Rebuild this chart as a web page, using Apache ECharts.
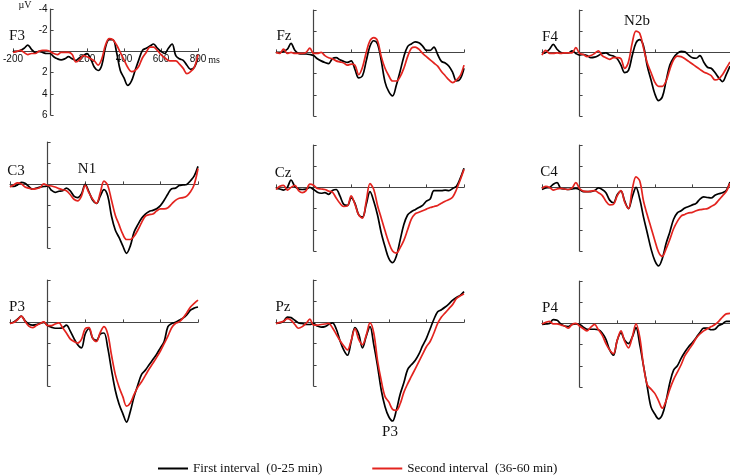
<!DOCTYPE html>
<html>
<head>
<meta charset="utf-8">
<script src="https://cdn.jsdelivr.net/npm/echarts@6/dist/echarts.min.js"></script>
<style>
  html, body { margin: 0; padding: 0; background: #fff; }
  #chart { width: 730px; height: 476px; }
</style>
</head>
<body>
<div id="chart"></div>
<script>
// time points in ms
const times = [-200, -180, -160, -140, -120, -100, -80, -60, -40, -20, 0, 20, 40, 60, 80, 100, 120, 140, 160, 180,
  200, 220, 240, 260, 280, 300, 320, 340, 360, 380, 400, 420, 440, 460, 480, 500, 520, 540, 560, 580,
  600, 620, 640, 660, 680, 700, 720, 740, 760, 780, 800]

const xTicks = [-200, 200, 400, 600, 800]
const yTicks = [-4, -2, 2, 4, 6]

// amplitudes (µV), first interval = black, second interval = red
const f3First = [0, 0, -0.1, -0.3, -0.6, -0.2, 0.1, 0, 0.1, 0.2, 0.2, 0.5, 0.7, 0.8, 0.7, 0.5, 0.7, 0.85, 0.6, 0.4,
  0.2, 0.7, 1.5, 1.8, 1.3, -0.4, -1.1, -1.1, 0.1, 1.8, 2.5, 3.2, 2.8, 1.8, 0.8, -0.1, -0.3, -0.5, -0.7, -0.3,
  0, 0.2, -0.3, -0.7, 0.4, 0.7, 0.85, 1.3, 1.7, 1.5, 0.6]
const f3Second = [0.1, 0, -0.1, 0.1, 0.3, 0.2, 0.2, 0, -0.1, -0.1, 0, 0.2, 0.3, 0.1, 0.1, 0.1, 0.3, 1.0, 0.8, 0.4,
  0.5, 0.7, 0.9, 1.3, 0.7, -0.6, -1.2, -1.1, -0.6, 0.1, 0.8, 1.5, 1.9, 1.8, 1.4, 0.6, 0.1, -0.4, -0.4, -0.1,
  0.3, 0.6, 0.85, 0.9, 0.9, 1.2, 1.6, 2.1, 1.9, 1.5, 0.3]

const fzFirst = [0, 0, -0.1, -0.3, -0.85, -0.2, 0.1, 0.15, 0.15, 0.2, 0.3, 0.6, 0.8, 0.95, 1.05, 0.6, 0.5, 0.7, 0.85, 0.95,
  0.8, 1.6, 2.4, 2.2, 0.8, -0.6, -1.1, -0.8, 0.8, 2.8, 3.7, 4.1, 3.1, 1.8, 0.4, -0.55, -0.8, -1.0, -0.9, -0.6,
  -0.2, -0.2, -0.5, 0.2, 0.85, 1.0, 1.3, 1.9, 2.7, 2.5, 1.5]
const fzSecond = [0, 0.1, -0.3, 0.1, 0, 0.1, 0.1, 0.1, 0, -0.4, 0.1, 0.1, 0, 0.3, 0.5, 0.6, 0.8, 0.9, 1.0, 1.2,
  1.1, 1.2, 2.1, 1.4, 0.0, -1.1, -1.4, -1.1, 0.4, 1.5, 2.2, 2.7, 2.7, 2.3, 1.5, 0.4, -0.4, -0.5, -0.3, 0.1,
  0.4, 0.7, 1.0, 1.3, 1.8, 2.2, 2.6, 2.85, 2.6, 2.2, 1.2]

const f4First = [0.1, 0, -0.3, -0.75, -0.3, 0, 0.05, 0.05, -0.15, 0.1, 0.25, 0.2, 0.3, 0.5, 0.45, 0.3, 0.1, 0.05, 0.25, 0.35,
  0.6, 1.2, 1.9, 1.7, 0.3, -0.9, -1.2, -0.6, 1.3, 2.6, 3.9, 4.55, 4.2, 2.7, 1.2, 0.5, 0.1, -0.1, -0.05, 0.25,
  0.5, 0.55, 0.3, 0.9, 1.4, 1.5, 1.9, 2.4, 2.75, 2.1, 1.3]
const f4Second = [0.25, -0.2, 0.1, 0.1, 0.05, 0.1, 0.05, 0.05, 0.05, -0.45, 0.1, 0.2, 0.4, 0.3, 0.1, -0.15, 0.3, 0.5, 0.65, 0.5,
  0.5, 0.6, 1.5, 0.9, -0.9, -2.0, -1.8, -0.4, 1.0, 1.9, 2.8, 3.2, 3.2, 2.7, 1.6, 0.7, 0.35, 0.4, 0.6, 0.85,
  1.1, 1.35, 1.6, 1.85, 2.0, 2.2, 2.6, 2.5, 2.1, 1.5, 0.9]

const c3First = [0.15, 0.2, 0.05, -0.2, -0.1, 0.2, 0.45, 0.35, 0.25, 0.2, 0.15, 0.55, 0.75, 0.65, 0.6, 0.35, 0.6, 1.1, 1.25, 0.9,
  0.0, 0.7, 1.5, 1.8, 1.1, 0.5, 1.1, 3.0, 4.3, 5.0, 5.8, 6.5, 5.8, 4.5, 3.8, 3.2, 2.8, 2.55, 2.45, 2.3,
  2.0, 1.5, 0.9, 0.4, 0.35, 0.1, 0.05, 0.0, -0.35, -0.8, -1.7]
const c3Second = [0.25, 0.05, -0.15, -0.05, 0.25, 0.35, 0.45, 0.4, 0.3, -0.05, 0.1, 0.15, 0.25, 0.4, 0.5, 0.6, 0.95, 1.4, 1.55, 1.1,
  0.1, 0.8, 1.4, 1.8, 0.8, -0.3, 0.1, 1.5, 2.9, 3.8, 4.7, 5.2, 5.2, 4.9, 4.3, 3.6, 3.0, 2.85, 2.8, 2.5,
  2.3, 2.3, 2.2, 1.85, 1.5, 1.3, 1.25, 1.1, 0.7, 0.0, -1.5]

const czFirst = [0.1, 0.15, 0.25, 0.0, -0.7, -0.1, 0.15, 0.2, 0.15, 0.0, 0.2, 0.45, 0.55, 0.5, 0.65, 0.3, 0.2, 0.8, 1.6, 1.7,
  1.0, 1.5, 2.6, 2.8, 1.6, 0.4, 1.3, 2.6, 4.3, 5.6, 6.7, 7.1, 6.5, 5.0, 3.5, 2.6, 2.3, 2.1, 1.9, 1.7,
  1.3, 1.1, 0.3, 0.3, 0.3, 0.25, 0.3, 0.1, -0.1, -0.85, -1.8]
const czSecond = [0.2, -0.1, -0.2, 0.25, 0.0, -0.2, 0.3, 0.5, 0.3, -0.3, -0.2, 0.1, 0.15, 0.2, 0.35, 0.45, 1.0, 1.5, 1.8, 1.75,
  0.8, 1.6, 2.6, 2.9, 1.3, -0.35, 0.2, 1.7, 2.9, 4.1, 5.2, 6.0, 6.2, 5.7, 5.0, 4.0, 3.0, 2.5, 2.35, 2.2,
  2.05, 1.9, 1.8, 1.7, 1.5, 1.3, 1.15, 0.9, 0.2, -0.7, -1.7]

const c4First = [0.2, 0.05, 0.0, -0.3, -0.45, 0.1, 0.15, 0.2, 0.15, 0.1, 0.2, 0.4, 0.4, 0.4, 0.3, 0.05, 0.2, 0.5, 1.2, 1.45,
  0.7, 0.35, 1.3, 2.0, 0.9, 0.0, 1.1, 2.8, 4.3, 5.8, 6.9, 7.4, 6.7, 5.3, 4.2, 3.0, 2.4, 2.2, 1.95, 1.8,
  1.65, 1.5, 1.1, 0.9, 0.95, 1.0, 0.75, 0.6, 0.5, 0.3, -0.5]
const c4Second = [0.1, -0.1, 0.0, 0.25, 0.15, 0.1, 0.15, 0.2, 0.05, -0.45, 0.1, 0.35, 0.4, 0.35, 0.3, 0.5, 0.75, 1.3, 1.65, 1.6,
  0.8, 0.3, 1.4, 2.0, 0.2, -1.0, -0.6, 1.3, 2.6, 3.8, 5.0, 6.1, 6.5, 5.8, 4.9, 3.9, 3.2, 2.7, 2.55, 2.4,
  2.35, 2.2, 2.1, 2.05, 2.0, 1.8, 1.6, 1.2, 0.8, 0.4, -0.4]

const p3First = [0.1, -0.05, -0.3, -0.6, -0.15, 0.15, 0.25, 0.2, 0.1, 0.0, 0.3, 0.45, 0.55, 0.55, 0.5, 0.25, 0.8, 1.5, 2.1, 2.4,
  1.1, 0.6, 1.5, 1.7, 1.1, 1.0, 2.4, 4.5, 6.4, 7.7, 8.6, 9.4, 8.4, 7.0, 5.9, 4.9, 4.5, 4.0, 3.5, 3.0,
  2.4, 1.8, 0.4, 0.1, 0.0, -0.2, -0.4, -0.7, -1.15, -1.35, -1.45]
const p3Second = [0.1, 0.0, -0.25, -0.6, -0.1, 0.35, 0.5, 0.3, 0.1, -0.05, 0.3, 0.3, 0.15, 0.05, 0.5, 1.0, 1.55, 1.8, 1.95, 1.6,
  0.6, 0.5, 1.5, 1.8, 0.95, 0.4, 1.1, 3.1, 4.9, 6.1, 7.0, 7.9, 7.6, 6.8, 6.1, 5.6, 5.0, 4.4, 3.85, 3.3,
  2.7, 2.0, 1.3, 0.5, 0.1, -0.05, -0.4, -0.9, -1.45, -1.8, -2.1]

const pzFirst = [0.1, 0.05, -0.1, -0.5, -0.45, -0.2, 0.05, 0.1, 0.2, 0.2, 0.1, 0.35, 0.45, 0.4, 0.2, 0.05, 0.6, 1.7, 2.6, 3.1,
  1.8, 0.5, 1.1, 2.4, 1.3, 0.4, 2.1, 4.1, 6.4, 7.95, 8.9, 9.3, 8.3, 6.8, 5.7, 4.45, 4.0, 3.6, 3.0, 2.2,
  1.5, 0.6, -0.3, -1.0, -1.2, -1.45, -1.75, -2.1, -2.35, -2.55, -2.9]
const pzSecond = [0.1, 0.0, -0.1, -0.35, -0.2, 0.2, 0.55, 0.4, 0.1, -0.3, 0.25, 0.25, 0.2, 0.15, 0.1, 0.5, 1.1, 1.7, 2.2, 2.6,
  1.7, 0.6, 1.6, 2.1, 1.2, 0.05, 1.0, 3.6, 5.5, 7.0, 7.5, 8.2, 8.3, 7.7, 6.6, 5.8, 5.1, 4.4, 3.7, 3.0,
  2.3, 1.8, 1.0, 0.1, -0.5, -0.9, -1.3, -1.7, -2.25, -2.5, -2.7]

const p4First = [0.1, 0.05, 0.0, -0.35, -0.3, 0.05, 0.25, 0.3, 0.1, 0.05, 0.1, 0.35, 0.55, 0.55, 0.55, 0.6, 0.9, 1.5, 2.5, 3.0,
  1.6, 0.9, 1.6, 1.9, 1.3, 0.4, 2.0, 4.0, 6.0, 7.9, 8.55, 9.0, 8.6, 7.3, 5.6, 4.4, 4.0, 3.3, 2.7, 2.2,
  1.8, 1.35, 0.85, 0.45, 0.45, 0.6, 0.55, 0.2, 0.05, -0.2, -0.2]
const p4Second = [0.05, -0.1, -0.2, 0.05, 0.05, 0.15, 0.25, 0.45, 0.1, 0.0, 0.25, 0.5, 0.7, 0.35, 0.1, 0.6, 1.1, 1.9, 2.5, 2.85,
  1.6, 0.7, 1.7, 2.3, 1.3, 0.05, 1.3, 4.0, 5.8, 6.2, 6.6, 7.3, 8.0, 7.3, 6.2, 5.3, 4.6, 3.9, 3.05, 2.5,
  2.0, 1.4, 1.0, 0.7, 0.5, 0.3, 0.1, -0.2, -0.6, -0.9, -0.95]

const firstName = 'First interval  (0-25 min)'
const secondName = 'Second interval  (36-60 min)'

// panel placement (pixels)
const panels = [
  { label: 'F3', first: f3First, second: f3Second, left: 10, top: 9 },
  { label: 'Fz', first: fzFirst, second: fzSecond, left: 276, top: 10 },
  { label: 'F4', first: f4First, second: f4Second, left: 542, top: 10 },
  { label: 'C3', first: c3First, second: c3Second, left: 10, top: 142 },
  { label: 'Cz', first: czFirst, second: czSecond, left: 276, top: 145 },
  { label: 'C4', first: c4First, second: c4Second, left: 542, top: 145 },
  { label: 'P3', first: p3First, second: p3Second, left: 10, top: 280 },
  { label: 'Pz', first: pzFirst, second: pzSecond, left: 276, top: 280 },
  { label: 'P4', first: p4First, second: p4Second, left: 542, top: 281 }
]
const gridW = 188
const gridH = 106

const chart = echarts.init(document.getElementById('chart'))
const axisColor = '#444'
const serif = '"Liberation Serif", "DejaVu Serif", serif'
const sans = '"Liberation Sans", Arial, sans-serif'

const grids = []
const xAxes = []
const yAxes = []
const series = []
const texts = []

panels.forEach(function (p, i) {
  const showLabels = i === 0
  grids.push({ left: p.left, top: p.top, width: gridW, height: gridH })
  // axes cross at (0 ms, 0 µV): shift them into the plot with offsets
  xAxes.push({
    type: 'value',
    gridIndex: i,
    position: 'bottom',
    offset: -gridH * 0.6,
    min: -200,
    max: 800,
    interval: 200,
    axisLine: { onZero: false, lineStyle: { color: axisColor, width: 1.2 } },
    axisTick: { show: true, inside: true, length: 3, lineStyle: { color: axisColor } },
    axisLabel: {
      show: showLabels,
      margin: 3,
      fontSize: 10,
      fontFamily: sans,
      color: '#111',
      formatter: function (v) { return xTicks.indexOf(v) >= 0 ? String(v) : '' }
    },
    splitLine: { show: false }
  })
  yAxes.push({
    type: 'value',
    gridIndex: i,
    position: 'left',
    offset: -gridW * 0.2,
    min: -4,
    max: 6,
    interval: 2,
    inverse: true,
    axisLine: { show: true, onZero: false, lineStyle: { color: axisColor, width: 1.2 } },
    axisTick: { show: true, inside: true, length: 3, lineStyle: { color: axisColor } },
    axisLabel: {
      show: showLabels,
      margin: 3,
      fontSize: 10,
      fontFamily: sans,
      color: '#111',
      formatter: function (v) { return yTicks.indexOf(v) >= 0 ? String(v) : '' }
    },
    splitLine: { show: false }
  })
  const pairs = function (vals) { return times.map(function (t, k) { return [t, vals[k]] }) }
  series.push({
    name: firstName,
    type: 'line',
    xAxisIndex: i,
    yAxisIndex: i,
    data: pairs(p.first),
    showSymbol: false,
    smooth: 0.35,
    clip: false,
    color: '#000',
    lineStyle: { color: '#000', width: 1.7 },
    z: 3
  })
  series.push({
    name: secondName,
    type: 'line',
    xAxisIndex: i,
    yAxisIndex: i,
    data: pairs(p.second),
    showSymbol: false,
    smooth: 0.35,
    clip: false,
    color: '#e3241f',
    lineStyle: { color: '#e3241f', width: 1.7 },
    z: 4
  })
})

// electrode names
const labelPos = [[17, 36], [284, 36], [550, 37], [16, 171], [283, 173], [549, 172], [17, 307], [283, 307], [550, 308]]
panels.forEach(function (p, i) {
  texts.push({
    type: 'text', x: labelPos[i][0], y: labelPos[i][1],
    style: { text: p.label, font: '15px ' + serif, fill: '#111', align: 'center', verticalAlign: 'middle' }
  })
})

// component names and units
const notes = [['N2b', 637, 21], ['N1', 87, 169], ['P3', 390, 432]]
notes.forEach(function (n) {
  texts.push({
    type: 'text', x: n[1], y: n[2],
    style: { text: n[0], font: '15px ' + serif, fill: '#111', align: 'center', verticalAlign: 'middle' }
  })
})
texts.push({ type: 'text', x: 25, y: 5, style: { text: 'µV', font: '10px ' + serif, fill: '#111', align: 'center', verticalAlign: 'middle' } })
texts.push({ type: 'text', x: 214, y: 60, style: { text: 'ms', font: '10px ' + serif, fill: '#111', align: 'center', verticalAlign: 'middle' } })

chart.setOption({
  backgroundColor: '#fff',
  animation: false,
  grid: grids,
  xAxis: xAxes,
  yAxis: yAxes,
  legend: {
    data: [firstName, secondName],
    left: 153,
    top: 457,
    icon: 'rect',
    itemWidth: 30,
    itemHeight: 2,
    itemGap: 50,
    textStyle: { fontFamily: serif, fontSize: 13, color: '#111' }
  },
  graphic: texts,
  series: series
})
</script>
</body>
</html>
